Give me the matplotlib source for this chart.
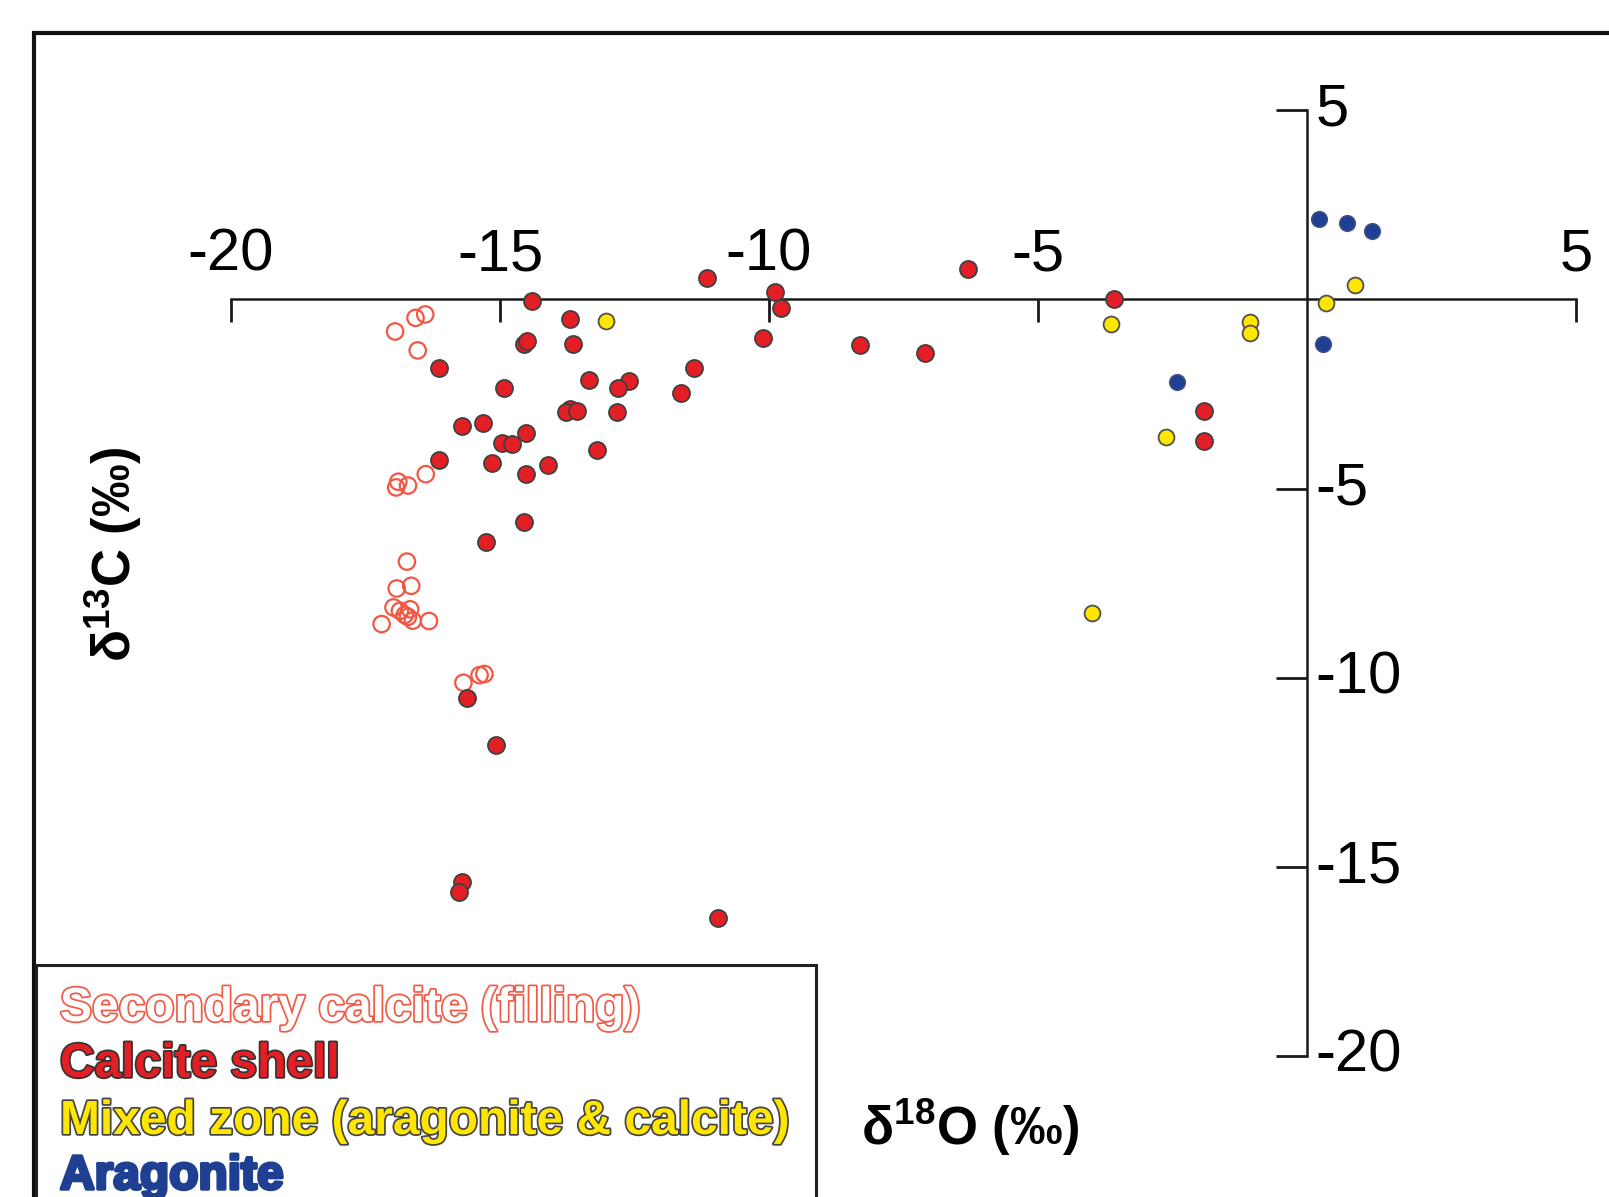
import matplotlib
matplotlib.use("Agg")
import matplotlib.pyplot as plt
import matplotlib.patheffects as pe
from matplotlib.patches import Rectangle

plt.rcParams['font.family'] = ['Liberation Sans', 'DejaVu Sans']
plt.rcParams['mathtext.fontset'] = 'custom'
plt.rcParams['mathtext.rm'] = 'Liberation Sans'
plt.rcParams['mathtext.bf'] = 'Liberation Sans:bold'

# secondary calcite (filling), open circles
sec_x = [-16.95, -16.57, -16.39, -16.53, -16.38, -16.89, -16.93, -16.71, -16.73, -16.92, -16.65,
         -16.98, -16.86, -16.67, -16.77, -16.62, -16.32, -17.20, -16.71, -15.68, -15.38, -15.29]
sec_y = [-0.85, -0.49, -0.40, -1.35, -4.62, -4.82, -4.97, -4.92, -6.93, -7.64, -7.57,
         -8.14, -8.23, -8.19, -8.34, -8.49, -8.50, -8.58, -8.39, -10.13, -9.93, -9.90]

# calcite shell
cal_x = [-14.41, -13.70, -14.55, -14.50, -13.64, -16.13, -14.93, -13.34, -12.60, -12.80, -13.70,
         -13.77, -13.57, -12.83, -15.71, -15.32, -14.52, -14.97, -14.77, -13.20, -16.13, -15.14,
         -14.11, -14.52, -14.56, -15.26, -11.15, -9.88, -9.78, -10.11, -8.31, -7.10, -11.39,
         -11.64, -6.31, -3.59, -1.91, -1.91, -15.62, -15.08, -15.71, -15.76, -10.94]
cal_y = [-0.04, -0.52, -1.19, -1.10, -1.19, -1.82, -2.34, -2.13, -2.16, -2.34, -2.91,
         -2.99, -2.95, -2.97, -3.35, -3.28, -3.54, -3.80, -3.83, -3.98, -4.25, -4.33,
         -4.39, -4.62, -5.88, -6.42, 0.57, 0.20, -0.24, -1.03, -1.21, -1.41, -1.81,
         -2.48, 0.81, 0.00, -2.94, -3.74, -10.54, -11.78, -15.40, -15.67, -16.35]

# mixed zone (aragonite & calcite)
mix_x = [-13.03, -3.64, -1.06, -1.06, -2.62, -4.00, 0.89, 0.35]
mix_y = [-0.57, -0.65, -0.59, -0.88, -3.65, -8.30, 0.38, -0.09]

# aragonite
ara_x = [0.22, 0.75, 1.21, 0.30, -2.41]
ara_y = [2.12, 2.01, 1.80, -1.18, -2.19]

ticks = [-20, -15, -10, -5, 5]
legend_labels = ["Secondary calcite (filling)", "Calcite shell",
                 "Mixed zone (aragonite & calcite)", "Aragonite"]

W, H = 1609, 1197
fig = plt.figure(figsize=(W / 100, H / 100), dpi=100)
ax = fig.add_axes([0, 0, 1, 1])
ax.set_xlim(-1307 / 53.8, (W - 1307) / 53.8)
ax.set_ylim((299.3 - H) / 37.85, 299.3 / 37.85)

ax.scatter(sec_x, sec_y, s=140, facecolors='none', edgecolors='#f25744', linewidths=1.6, zorder=3)
ax.scatter(cal_x, cal_y, s=150, c='#e31e25', edgecolors='#404040', linewidths=1.3, zorder=4)
ax.scatter(mix_x, mix_y, s=130, c='#ffe600', edgecolors='#505050', linewidths=1.3, zorder=4)
ax.scatter(ara_x, ara_y, s=130, c='#1f3f93', edgecolors='#4a5680', linewidths=1.0, zorder=4)

# axes crossing at the origin
for s in ['left', 'bottom']:
    ax.spines[s].set_visible(False)
ax.spines['top'].set_position(('data', 0))
ax.spines['right'].set_position(('data', 0))
ax.spines['top'].set_bounds(-20, 5)
ax.spines['right'].set_bounds(-20, 5)
for s in ['top', 'right']:
    ax.spines[s].set_linewidth(1.8)
    ax.spines[s].set_color('#1a1a1a')

ax.xaxis.set_ticks_position('top')
ax.yaxis.set_ticks_position('right')
ax.set_xticks(ticks)
ax.set_yticks(ticks)
ax.set_xticklabels([str(t) for t in ticks])
ax.set_yticklabels([str(t) for t in ticks])
ax.tick_params(axis='x', direction='in', length=16.5, width=2, pad=12, labelsize=43, color='#1a1a1a')
ax.tick_params(axis='y', direction='in', length=22, width=2, pad=6, labelsize=43, color='#1a1a1a')
for lab in ax.get_yticklabels():
    lab.set_verticalalignment('center')

ax.xaxis.set_label_position('bottom')
ax.yaxis.set_label_position('left')
ax.set_xlabel(r"δ$^{\mathbf{18}}$O (‰)", fontsize=38, fontweight='bold')
ax.set_ylabel(r"δ$^{\mathbf{13}}$C (‰)", fontsize=38, fontweight='bold')
ax.xaxis.label.set_va('center')
ax.xaxis.label.set_ha('center')
ax.yaxis.label.set_va('center')
ax.yaxis.label.set_ha('center')
ax.xaxis.set_label_coords(970 / W, 1 - 1127 / H)
ax.yaxis.set_label_coords(113 / W, 1 - 555 / H)

# outer frame and legend box
fig.patches.append(Rectangle((34 / W, -0.1), 1.2, 1.1 - 33 / H, transform=fig.transFigure,
                             fill=False, lw=3, ec='#111111'))
fig.patches.append(Rectangle((36 / W, -0.1), (816 - 36) / W, 0.1 + 1 - 965 / H,
                             transform=fig.transFigure, fill=False, lw=2.2, ec='#222222'))

text_fill = ['white', '#e31e25', '#ffe600', '#1f3f93']
text_edge = ['#f25a48', '#333333', '#444444', '#1f3f93']
baselines = [1021, 1077, 1134, 1189]
for lab, fc, ec, b in zip(legend_labels, text_fill, text_edge, baselines):
    fig.text(60 / W, 1 - b / H, lab, fontsize=34.5, fontweight='bold', color=fc,
             ha='left', va='baseline',
             path_effects=[pe.Stroke(linewidth=2.5, foreground=ec), pe.Normal()])

fig.savefig("out.png", dpi=100, facecolor='white')
